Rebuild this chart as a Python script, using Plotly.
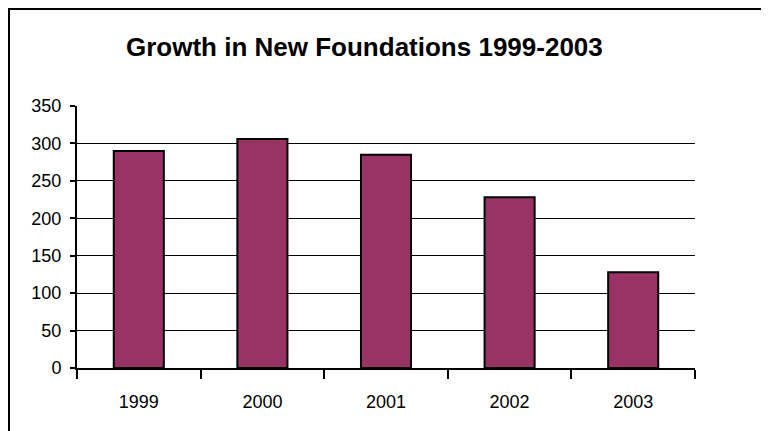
import plotly.graph_objects as go

years = ["1999", "2000", "2001", "2002", "2003"]
foundations = [290, 306, 285, 228, 128]
y_ticks = [0, 50, 100, 150, 200, 250, 300, 350]
title_text = "Growth in New Foundations 1999-2003"

# page body adds an 8px offset; compensate in margins
OFF = 8
L, R_EDGE, T, B_EDGE = 77 - OFF, 695 - OFF, 106 - OFF, 368 - OFF
W, H = 761, 423
PW, PH = R_EDGE - L, B_EDGE - T

fig = go.Figure()
fig.add_trace(go.Bar(
    x=years, y=foundations,
    marker=dict(color="#993366", line=dict(color="black", width=2)),
    width=0.405,
))

fig.update_layout(
    width=W, height=H,
    margin=dict(l=L, r=W - R_EDGE, t=T, b=H - B_EDGE),
    paper_bgcolor="white", plot_bgcolor="white",
    showlegend=False,
    font=dict(family="Liberation Sans, Arial, sans-serif", color="black", size=18),
    annotations=[dict(
        text="<b>" + title_text + "</b>", xref="paper", yref="paper",
        x=(364 - OFF - L) / PW, y=1 + (T - (47.5 - OFF)) / PH,
        xanchor="center", yanchor="middle",
        showarrow=False, font=dict(size=26, color="black"),
    )],
    shapes=[dict(type="rect", xref="paper", yref="paper",
                 x0=(1 - L) / PW, x1=1 + 100 / PW, y0=-1, y1=1 + (T - 1) / PH,
                 line=dict(color="black", width=2), fillcolor="rgba(0,0,0,0)", layer="below")],
)

fig.update_xaxes(
    type="category", showline=True, linecolor="black", linewidth=2,
    ticks="outside", tickson="boundaries", ticklen=9, tickwidth=2, tickcolor="black",
    showgrid=False, tickfont=dict(size=18), ticklabelstandoff=16,
)
fig.update_yaxes(
    range=[0, 350], tickvals=y_ticks, showline=True, linecolor="black", linewidth=2,
    ticks="outside", ticklen=5, tickwidth=2, tickcolor="black",
    showgrid=True, gridcolor="black", gridwidth=1.3, zeroline=False,
    tickfont=dict(size=18), ticklabelstandoff=5,
)

fig.write_html("out.html")
